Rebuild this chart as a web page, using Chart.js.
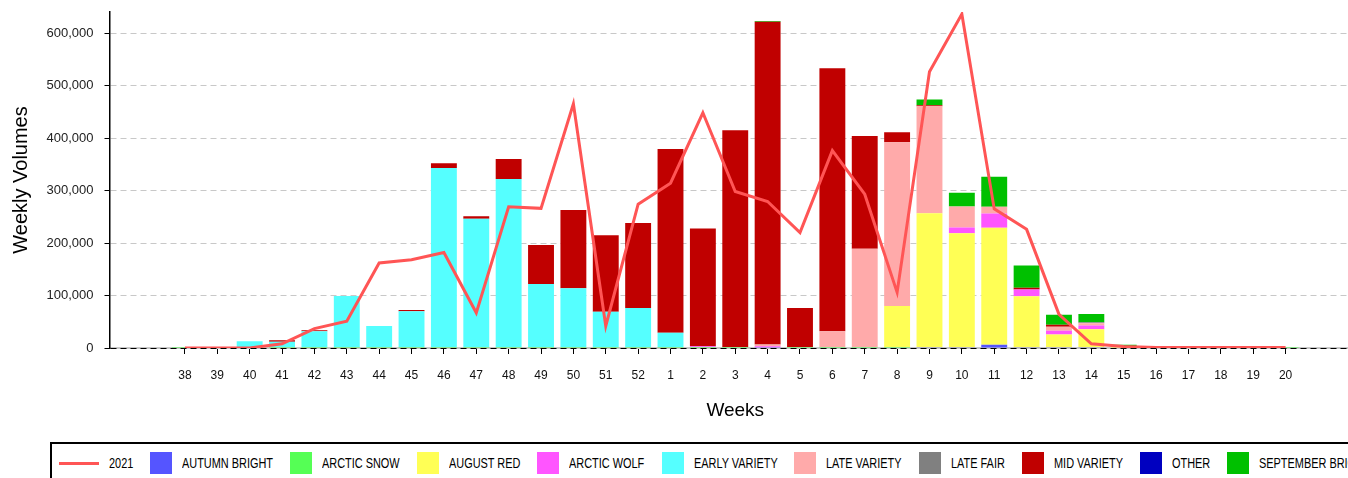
<!DOCTYPE html>
<html>
<head>
<meta charset="utf-8">
<script src="https://cdn.jsdelivr.net/npm/chart.js@4.4.1/dist/chart.umd.min.js"></script>
<style>
  html, body { margin: 0; padding: 0; background: #fff; overflow: hidden; }
  #wrap { position: relative; width: 1400px; height: 440px; }
  #legend {
    position: absolute; left: 50px; top: 442px; width: 1400px; height: 60px;
    box-sizing: border-box; border: 2px solid #000;
    display: flex; align-items: flex-start; padding: 8px 0 0 7px;
    font-family: 'Liberation Sans', Arial, sans-serif;
    font-size: 14px; color: #000; white-space: nowrap;
  }
  .item { display: flex; align-items: center; height: 22px; flex-shrink: 0; margin-right: 17px; }
  .sw { width: 22px; height: 22px; margin-right: 10px; flex-shrink: 0; }
  .sw.line { width: 40px; height: 3px; }
  .txt { display: inline-block; transform: scaleX(0.78); transform-origin: left center; }
</style>
</head>
<body>
<div id="wrap"><canvas id="chart" width="1400" height="440"></canvas></div>
<div id="legend"></div>
<script>
// semaines (axe X)
const weeks = ['38','39','40','41','42','43','44','45','46','47','48','49','50','51','52',
  '1','2','3','4','5','6','7','8','9','10','11','12','13','14','15','16','17','18','19','20'];

// graduations de l'axe Y
const yTicks = [0, 100000, 200000, 300000, 400000, 500000, 600000];
const yMax = 640000;

// courbe 2021
const line2021 = [0, 0, 0, 8000, 37000, 51000, 162000, 168000, 182000, 67000, 269000, 266000, 465000, 42000, 274000,
  314000, 448000, 298000, 279000, 220000, 376000, 293000, 106000, 526000, 636000, 265000, 226000, 64000, 8000, 3000,
  1000, 1000, 1000, 1000, 1000];

// séries empilées (ordre = bas vers haut)
const seriesNames = ['AUTUMN BRIGHT', 'ARCTIC SNOW', 'AUGUST RED', 'ARCTIC WOLF', 'EARLY VARIETY',
  'LATE VARIETY', 'LATE FAIR', 'MID VARIETY', 'OTHER', 'SEPTEMBER BRIGHT'];
const seriesColors = ['#5555ff', '#55ff55', '#ffff55', '#ff55ff', '#55ffff',
  '#ffaaaa', '#808080', '#c00000', '#0000c0', '#00c000'];

const autumnBright = [0,0,0,0,0,0,0,0,0,0,0,0,0,0,0, 0,0,0,1500,0,0,0,0,1500,1500,6000,1500,1500,1500,0, 0,0,0,0,0];
const arcticSnow   = [2000,2000,2000,2000,2000,2000,2000,2000,2000,2000,2000,2000,2000,2000,2000, 2000,2000,2000,0,2000,2000,2000,2000,0,0,0,0,0,0,0, 0,0,0,0,2000];
const augustRed    = [0,0,0,0,0,0,0,0,0,0,0,0,0,0,0, 0,0,0,0,0,0,0,78000,255000,217000,223000,97000,24000,34000,4000, 0,0,0,0,0];
const arcticWolf   = [0,0,0,0,0,0,0,0,0,0,0,0,0,0,0, 0,1500,0,2000,0,0,0,0,0,11000,27000,13000,7500,7500,0, 0,0,0,0,0];
const earlyVariety = [0,0,11000,10000,30000,97000,40000,68000,341000,244000,320000,120000,112000,67000,74000, 27000,0,0,0,0,0,0,0,0,0,0,0,0,0,0, 0,0,0,0,0];
const lateVariety  = [0,0,0,0,0,0,0,0,0,0,0,0,0,0,0, 0,0,0,3000,0,30000,187000,312000,204000,40000,13000,0,7600,4000,0, 0,0,0,0,0];
const lateFair     = [0,0,0,0,0,0,0,0,0,0,0,0,0,0,0, 0,0,0,0,0,0,0,0,0,0,0,0,0,2000,0, 0,0,0,0,0];
const midVariety   = [0,0,0,3000,2000,0,0,2500,9000,5000,38000,74000,149000,146000,162000, 350000,224000,413000,615000,74000,501000,215000,19000,2000,0,0,3500,3800,0,0, 0,0,0,0,0];
const other        = [0,0,0,0,0,0,0,0,0,0,0,0,0,0,0, 0,0,0,0,0,0,0,0,0,0,0,0,0,0,0, 0,0,0,0,0];
const septBright   = [0,0,0,0,0,0,0,0,0,0,0,0,0,0,0, 0,0,0,1500,0,0,0,0,11000,26000,57000,42000,19000,16000,2000, 0,0,0,0,0];

const seriesValues = [autumnBright, arcticSnow, augustRed, arcticWolf, earlyVariety,
  lateVariety, lateFair, midVariety, other, septBright];

Chart.defaults.font.family = "'Liberation Sans', Arial, sans-serif";
Chart.defaults.font.size = 12;

// Légende HTML construite à partir des labels générés par Chart.js
const htmlLegend = {
  id: 'htmlLegend',
  afterUpdate(chart) {
    const box = document.getElementById('legend');
    box.innerHTML = '';
    const items = chart.options.plugins.legend.labels.generateLabels(chart);
    items.forEach(item => {
      const ds = chart.data.datasets[item.datasetIndex];
      const el = document.createElement('div');
      el.className = 'item';
      const sw = document.createElement('span');
      if (ds.type === 'line') {
        sw.className = 'sw line';
        sw.style.background = ds.borderColor;
      } else {
        sw.className = 'sw';
        sw.style.background = item.fillStyle;
      }
      const txt = document.createElement('span');
      txt.className = 'txt';
      txt.textContent = item.text;
      el.appendChild(sw);
      el.appendChild(txt);
      box.appendChild(el);
      // texte étroit : on retire la largeur perdue par le scaleX
      txt.style.marginRight = (-txt.offsetWidth * 0.22) + 'px';
    });
  }
};

const datasets = [{
  type: 'line',
  label: '2021',
  data: line2021.map((v, i) => ({ x: i, y: v })),
  borderColor: '#ff5555',
  backgroundColor: '#ff5555',
  borderWidth: 3,
  pointRadius: 0,
  tension: 0,
  fill: false
}];
seriesNames.forEach((name, k) => {
  datasets.push({
    type: 'bar',
    label: name,
    data: seriesValues[k].map((v, i) => ({ x: i, y: v })),
    backgroundColor: seriesColors[k],
    borderWidth: 0,
    barPercentage: 0.8,
    categoryPercentage: 1.0
  });
});

new Chart(document.getElementById('chart').getContext('2d'), {
  data: { datasets },
  options: {
    responsive: false,
    animation: false,
    layout: { padding: { top: 12, right: 39, left: 0, bottom: 0 } },
    plugins: {
      legend: { display: false },
      tooltip: { enabled: false }
    },
    scales: {
      x: {
        type: 'linear',
        stacked: true,
        min: -2.33,
        max: weeks.length - 1 + 2.33,
        offset: false,
        afterBuildTicks: s => { s.ticks = weeks.map((w, i) => ({ value: i })); },
        afterFit: s => { s.height = 92; },
        ticks: {
          callback: v => weeks[v],
          autoSkip: false,
          maxRotation: 0,
          padding: 14,
          color: '#111',
          font: { size: 12 }
        },
        grid: { drawOnChartArea: false, drawTicks: true, tickLength: 6, tickColor: '#000', offset: false },
        border: { display: true, color: '#c8c8c8', width: 2, z: -1 },
        title: { display: true, text: 'Weeks', color: '#000', font: { size: 19 }, padding: { top: 0, bottom: 18 } }
      },
      y: {
        stacked: true,
        min: 0,
        max: yMax,
        afterBuildTicks: s => { s.ticks = yTicks.map(v => ({ value: v })); },
        afterFit: s => { s.width = 109.5; s.paddingTop = 0; s.paddingBottom = 0; },
        ticks: { padding: 11, color: '#222', font: { size: 13 } },
        grid: {
          color: c => (c.tick && c.tick.value === 0) ? '#000' : '#c8c8c8',
          tickColor: '#000',
          tickLength: 5,
          lineWidth: 1
        },
        border: { display: true, color: '#000', width: 1.5, dash: [6, 4] },
        title: { display: true, text: 'Weekly Volumes', color: '#000', font: { size: 20 }, padding: { top: 9, bottom: 0 } }
      }
    }
  },
  plugins: [htmlLegend]
});
</script>
</body>
</html>
